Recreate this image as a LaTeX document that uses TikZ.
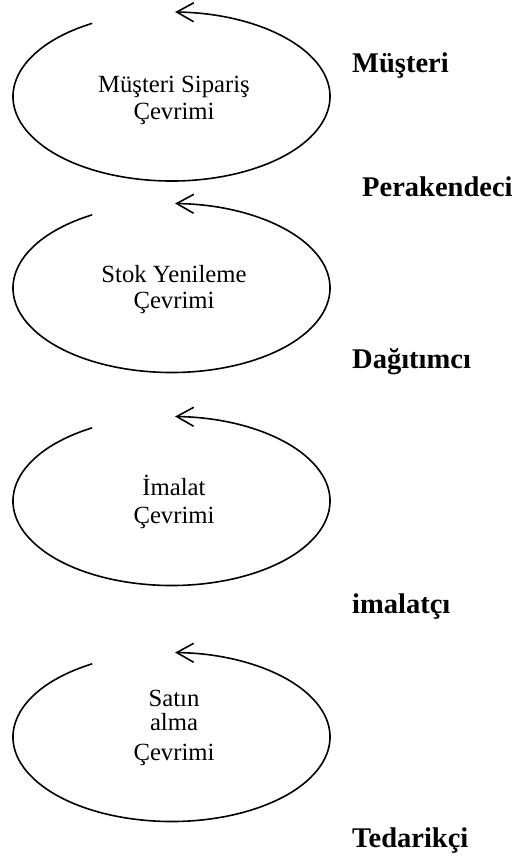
\documentclass[tikz,border=0pt]{standalone}
\usepackage{fontspec}
\setmainfont{Liberation Serif}
\usetikzlibrary{arrows.meta}

\begin{document}
\begin{tikzpicture}[x=1pt,y=1pt,
  cycleline/.style={line width=1.6pt,
    -{Straight Barb[length=17pt,width=19pt,line width=1.6pt]}},
  cyclelabel/.style={anchor=base,inner sep=0pt,
    font=\fontsize{24.7}{27}\selectfont},
  stagelabel/.style={anchor=base west,inner sep=0pt,
    font=\fontsize{28.5}{30}\selectfont\bfseries}]
\useasboundingbox (0,0) rectangle (516,-857);

% centres of the four cycles
\coordinate (c1) at (171.5,-96.5);
\coordinate (c2) at (171.5,-288);
\coordinate (c3) at (171.5,-501);
\coordinate (c4) at (171.5,-737);

% open ellipses with an arrow at the top
\foreach \c in {c1,c2,c3,c4}{
  \draw[cycleline] (\c) ++(120:158.5 and 84.5)
    arc[start angle=120,end angle=448.7,x radius=158.5,y radius=84.5];
}

% cycle names
\node[cyclelabel] (l1a) at (174,-92) {Müşteri Sipariş};
\node[cyclelabel] (l1b) at (174,-119) {Çevrimi};
\node[cyclelabel] (l2a) at (174,-282) {Stok Yenileme};
\node[cyclelabel] (l2b) at (174,-308) {Çevrimi};
\node[cyclelabel] (l3a) at (174,-495) {İmalat};
\node[cyclelabel] (l3b) at (174,-523) {Çevrimi};
\node[cyclelabel] (l4a) at (174,-706) {Satın};
\node[cyclelabel] (l4b) at (174,-730) {alma};
\node[cyclelabel] (l4c) at (174,-760) {Çevrimi};

% supply chain stages
\node[stagelabel] (s1) at (352,-72) {Müşteri};
\node[stagelabel] (s2) at (362,-196) {Perakendeci};
\node[stagelabel] (s3) at (352,-368) {Dağıtımcı};
\node[stagelabel] (s4) at (352,-613) {imalatçı};
\node[stagelabel] (s5) at (352,-847) {Tedarikçi};
\end{tikzpicture}
\end{document}
